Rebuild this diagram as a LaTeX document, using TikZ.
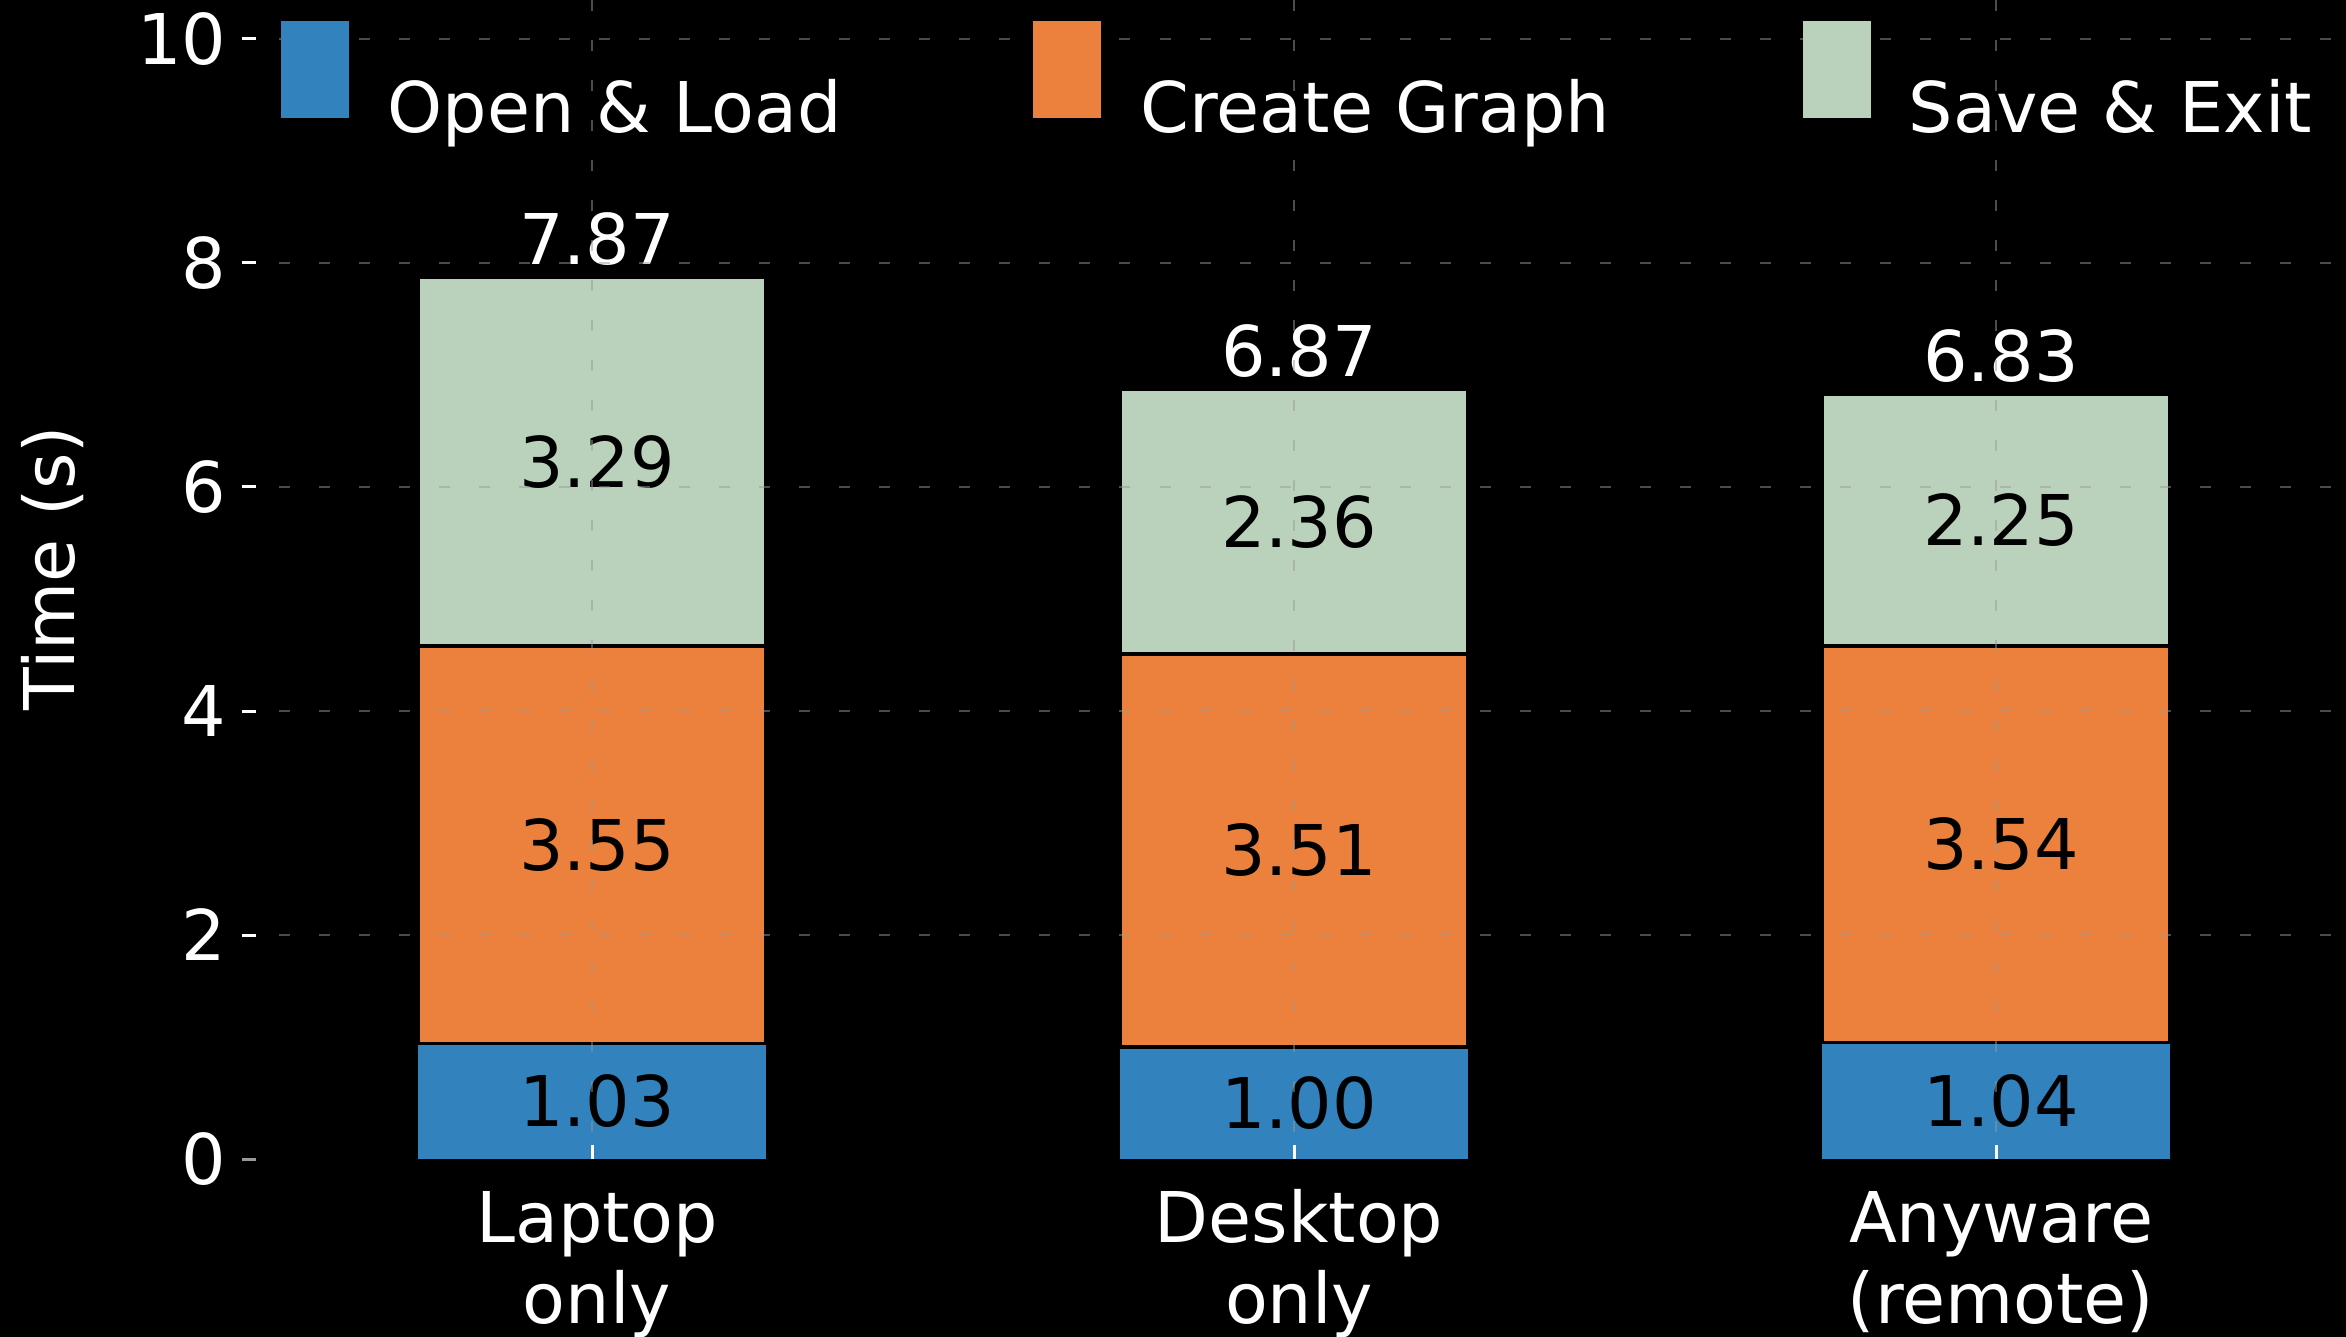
\documentclass[tikz,border=0pt]{standalone}
\usepackage{fontspec}
\setmainfont{DejaVu Sans}
\definecolor{openload}{RGB}{49,130,189}
\definecolor{creategraph}{RGB}{235,129,60}
\definecolor{saveexit}{RGB}{186,210,187}
\definecolor{gridgray}{RGB}{153,153,153}
\begin{document}
\begin{tikzpicture}[x=0.01cm, y=-0.01cm,
  font=\fontsize{19.9}{24}\selectfont,
  seg/.style={draw=black, line width=0.035cm},
  gridline/.style={draw=gridgray, opacity=0.5, line width=0.02cm,
                   dash pattern=on 0.11cm off 0.29cm},
  tickmark/.style={draw=white, line width=0.03cm},
  segval/.style={text=black, inner sep=0pt, anchor=center},
  totval/.style={text=white, inner sep=0pt, anchor=base},
  ylab/.style={text=white, inner sep=0pt, anchor=east},
  xlab/.style={text=white, inner sep=0pt, anchor=base},
  legtext/.style={text=white, inner sep=0pt, anchor=base west},
  legpatch/.style={minimum width=0.68cm, minimum height=0.97cm, inner sep=0pt, anchor=north west}]

% canvas
\fill[black] (0,0) rectangle (2346,1337);
\useasboundingbox (0,0) rectangle (2346,1337);

% stacked bars: value v sits at y = 1159 - 112 v
\foreach \i/\cx/\a/\b/\c/\t/\la/\lb in
  {1/592/1.03/3.55/3.29/7.87/Laptop/only,
   2/1294/1.00/3.51/2.36/6.87/Desktop/only,
   3/1996/1.04/3.54/2.25/6.83/Anyware/{(remote)}}{
  \pgfmathsetmacro{\ya}{1159-112*\a}
  \pgfmathsetmacro{\yb}{1159-112*(\a+\b)}
  \pgfmathsetmacro{\yc}{1159-112*(\a+\b+\c)}
  \pgfmathsetmacro{\tx}{\cx+5}
  \fill[openload] (\cx-174,1159) rectangle (\cx+174,\ya);
  \draw[seg, fill=creategraph] (\cx-174,\ya) rectangle (\cx+174,\yb);
  \draw[seg, fill=saveexit] (\cx-174,\yb) rectangle (\cx+174,\yc);
  \draw[seg] (\cx-174,\ya) -- (\cx+174,\ya);
  \node[segval] (open\i) at (\tx,{(1159+\ya)/2}) {\a};
  \node[segval] (graph\i) at (\tx,{(\ya+\yb)/2}) {\b};
  \node[segval] (save\i) at (\tx,{(\yb+\yc)/2}) {\c};
  \node[totval] (total\i) at (\tx,\yc-13) {\t};
  \draw[tickmark] (\cx,1159) -- (\cx,1145);
  \node[xlab] (cat\i a) at (\tx,1242) {\la};
  \node[xlab] (cat\i b) at (\tx,1323) {\lb};
  \draw[gridline] (\cx,0) -- (\cx,1159);
}

% horizontal grid, y ticks and labels
\foreach \v in {2,4,6,8,10}{
  \draw[gridline] (279,{1159-112*\v}) -- (2346,{1159-112*\v});
  \draw[tickmark] (242,{1159-112*\v}) -- (256,{1159-112*\v});
}
\draw[draw=gridgray, line width=0.03cm] (242,1159) -- (256,1159);
\foreach \v in {0,2,4,6,8,10}{
  \node[ylab] (ytick\v) at (227,{1159-112*\v}) {\v};
}

% axis title
\node[text=white, inner sep=0pt, anchor=base, rotate=90] (ytitle) at (74,568) {Time (s)};

% legend
\node[legpatch, fill=openload] (keyopen) at (280,20) {};
\node[legtext] (legopen) at (387,133) {Open \& Load};
\node[legpatch, fill=creategraph] (keygraph) at (1032,20) {};
\node[legtext] (leggraph) at (1140,133) {Create Graph};
\node[legpatch, fill=saveexit] (keysave) at (1802,20) {};
\node[legtext] (legsave) at (1908,133) {Save \& Exit};
\end{tikzpicture}
\end{document}
